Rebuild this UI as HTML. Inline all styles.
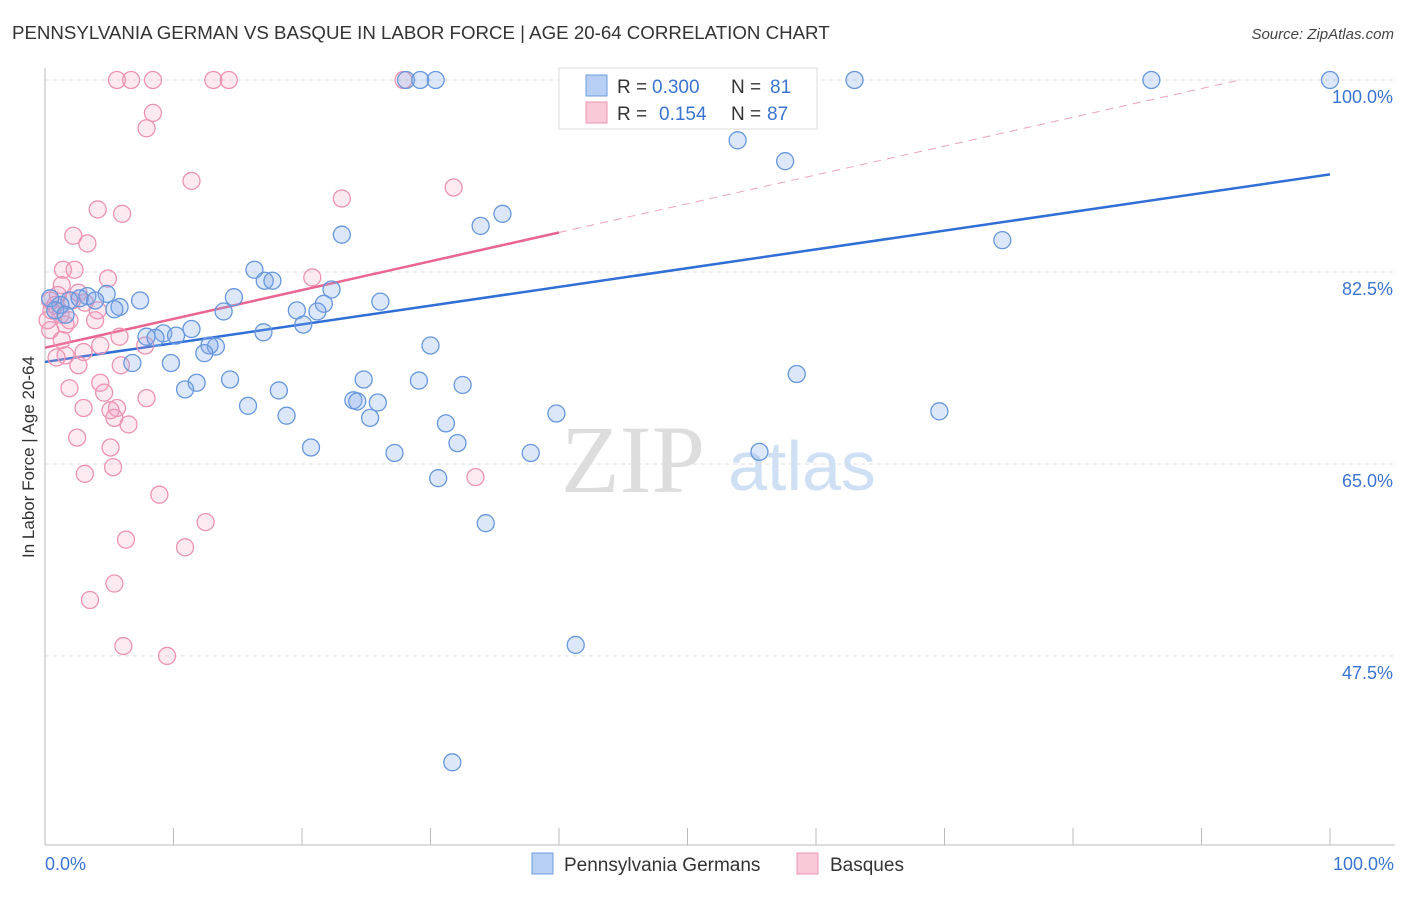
<!DOCTYPE html>
<html><head><meta charset="utf-8"><style>
body{margin:0;background:#fff;font-family:"Liberation Sans",sans-serif}
</style></head><body>
<svg id="chart" width="1406" height="892" xmlns="http://www.w3.org/2000/svg" font-family="Liberation Sans, sans-serif">
<text x="12" y="39" font-size="18.7" fill="#333">PENNSYLVANIA GERMAN VS BASQUE IN LABOR FORCE | AGE 20-64 CORRELATION CHART</text>
<text x="1394" y="39" font-size="15" fill="#444" text-anchor="end" font-style="italic">Source: ZipAtlas.com</text>
<text transform="translate(34,457) rotate(-90)" font-size="17" fill="#333" text-anchor="middle">In Labor Force | Age 20-64</text>
<g>
<text x="633" y="492" font-size="96" fill="#ddd" font-family="Liberation Serif, serif" text-anchor="middle">ZIP</text>
<text x="802" y="490" font-size="70" fill="#cfe0f5" text-anchor="middle">atlas</text>
</g>
<g id="grid"></g><g id="axes"></g><g id="trends"></g><g id="points"></g>
<g>
<rect x="559" y="68" width="258" height="61" fill="#fff" stroke="#ddd"/>
<rect x="586" y="75" width="21" height="21" fill="#b7cff3" stroke="#6f9ee0"/>
<text x="617" y="93" font-size="19" fill="#333">R =</text><text x="652" y="93" font-size="19" fill="#3b74d0">0.300</text>
<text x="731" y="93" font-size="19" fill="#333">N =</text><text x="770" y="93" font-size="19" fill="#3b74d0">81</text>
<rect x="586" y="102" width="21" height="21" fill="#f9c9d8" stroke="#eb96b2"/>
<text x="617" y="120" font-size="19" fill="#333">R =</text><text x="659" y="120" font-size="19" fill="#3b74d0">0.154</text>
<text x="731" y="120" font-size="19" fill="#333">N =</text><text x="767" y="120" font-size="19" fill="#3b74d0">87</text>
</g>
<g><rect x="532" y="853" width="21" height="21" fill="#b7cff3" stroke="#6f9ee0"/><text x="564" y="871" font-size="19" fill="#333">Pennsylvania Germans</text></g>
<g><rect x="797" y="853" width="21" height="21" fill="#f9c9d8" stroke="#eb96b2"/><text x="830" y="871" font-size="19" fill="#333">Basques</text></g>
</svg>
<script>
const yTicks=[100,82.5,65,47.5];
const yTickLabels=["100.0%","82.5%","65.0%","47.5%"];
const xTickLabels=["0.0%","100.0%"];
const blueX=[28.1,29.2,30.4,42.1,63.0,86.1,100,53.9,57.6,35.6,33.9,23.1,74.5,16.3,17.1,17.7,22.3,14.7,7.4,3.3,4.8,1.9,1.2,5.8,5.4,26.1,19.6,21.7,21.2,13.9,20.1,11.4,9.2,10.2,7.9,8.6,17.0,30.0,13.3,12.8,12.4,9.8,6.8,58.5,14.4,11.8,10.9,24.8,29.1,32.5,18.2,24.0,24.3,25.9,15.8,18.8,25.3,39.8,69.6,31.2,32.1,20.7,27.2,37.8,55.6,30.6,34.3,41.3,31.7,0.4,0.8,1.6,2.7,3.9];
const blueY=[100,100,100,100,100,100,100,94.5,92.6,87.8,86.7,85.9,85.4,82.7,81.7,81.7,80.9,80.2,79.9,80.3,80.5,79.9,79.5,79.3,79.1,79.8,79.0,79.6,78.9,78.9,77.7,77.3,76.9,76.7,76.6,76.5,77.0,75.8,75.7,75.8,75.1,74.2,74.2,73.2,72.7,72.4,71.8,72.7,72.6,72.2,71.7,70.8,70.7,70.6,70.3,69.4,69.2,69.6,69.8,68.7,66.9,66.5,66.0,66.0,66.1,63.7,59.6,48.5,37.8,80.1,79.0,78.6,80.1,79.9];
const pinkX=[5.6,6.7,8.4,13.1,14.3,27.9,8.4,7.9,11.4,4.1,6.0,2.2,3.3,23.1,31.8,20.8,1.4,2.3,4.9,1.3,2.6,0.4,0.8,1.2,1.9,0.2,1.6,3.1,4.1,5.8,7.8,3.0,1.6,0.9,2.6,5.9,1.9,4.3,4.6,7.9,5.6,3.0,5.1,5.4,6.5,2.5,5.1,5.3,3.1,8.9,12.5,6.3,10.9,5.4,3.5,6.1,9.5,33.5,0.4,0.5,1.0,2.1,3.9,4.3,1.3];
const pinkY=[100,100,100,100,100,100,97.0,95.6,90.8,88.2,87.8,85.8,85.1,89.2,90.2,82.0,82.7,82.7,81.9,81.3,80.6,79.9,79.5,78.6,78.1,78.1,77.7,79.7,79.0,76.6,75.8,75.2,74.9,74.7,74.0,74.0,71.9,72.4,71.5,71.0,70.1,70.1,69.9,69.2,68.6,67.4,66.5,64.7,64.1,62.2,59.7,58.1,57.4,54.1,52.6,48.4,47.5,63.8,77.2,79.0,80.4,79.9,78.1,75.8,76.3];
const blueTrend=[74.3,91.4];
const pinkTrend=[75.6,0.2625];
const pinkSolidEnd=40, pinkDashEnd=93;

const NS="http://www.w3.org/2000/svg";
const X0=45,X1=1330,YT=80,PX_PER=10.97;
const xs=v=>X0+(X1-X0)*v/100;
const ys=v=>YT+(100-v)*PX_PER;
function mk(tag,attrs,parent){const e=document.createElementNS(NS,tag);for(const k in attrs)e.setAttribute(k,attrs[k]);document.getElementById(parent).appendChild(e);return e;}
yTicks.forEach((t,i)=>{
 const g=mk('line',{x1:45,x2:1395,y1:ys(t),y2:ys(t),stroke:'#ddd','stroke-dasharray':'4,4'},'grid');
 
 
 const l=mk('text',{x:1393,y:ys(t)+23,'font-size':18,fill:'#3b74d0','text-anchor':'end'},'grid');
 l.textContent=yTickLabels[i];
 
 
});
const ax=mk('line',{x1:45,x2:45,y1:68,y2:845,stroke:'#bbb'},'axes');


const bx=mk('line',{x1:45,x2:1395,y1:845,y2:845,stroke:'#bbb'},'axes');


for(let i=0;i<=10;i++){const t=mk('line',{x1:xs(i*10),x2:xs(i*10),y1:828,y2:845,stroke:'#bbb'},'axes');
 
 }
[[0,'start',45],[100,'end',1394]].forEach((d,i)=>{const t=mk('text',{x:d[2],y:870,'font-size':18,fill:'#3b74d0','text-anchor':d[1]},'axes');t.textContent=xTickLabels[i];
 
 });
const bl=mk('line',{x1:xs(0),y1:ys(blueTrend[0]),x2:xs(100),y2:ys(blueTrend[1]),stroke:'#2f6fd6','stroke-width':2.5},'trends');


const pf=x=>pinkTrend[0]+pinkTrend[1]*x;
const pl=mk('line',{x1:xs(0),y1:ys(pf(0)),x2:xs(pinkSolidEnd),y2:ys(pf(pinkSolidEnd)),stroke:'#e8668f','stroke-width':2.5},'trends');


const pd=mk('line',{x1:xs(pinkSolidEnd),y1:ys(pf(pinkSolidEnd)),x2:xs(pinkDashEnd),y2:ys(pf(pinkDashEnd)),stroke:'#eda3bb','stroke-width':1,'stroke-dasharray':'8,6'},'trends');


pinkX.forEach((x,i)=>{const c=mk('circle',{cx:xs(x),cy:ys(pinkY[i]),r:8.5,fill:'rgba(245,160,190,0.22)',stroke:'#ec93b1','stroke-width':1.3},'points');
 
 });
blueX.forEach((x,i)=>{const c=mk('circle',{cx:xs(x),cy:ys(blueY[i]),r:8.5,fill:'rgba(130,170,235,0.28)',stroke:'#6797dc','stroke-width':1.3},'points');
 
 });
</script>
</body></html>
